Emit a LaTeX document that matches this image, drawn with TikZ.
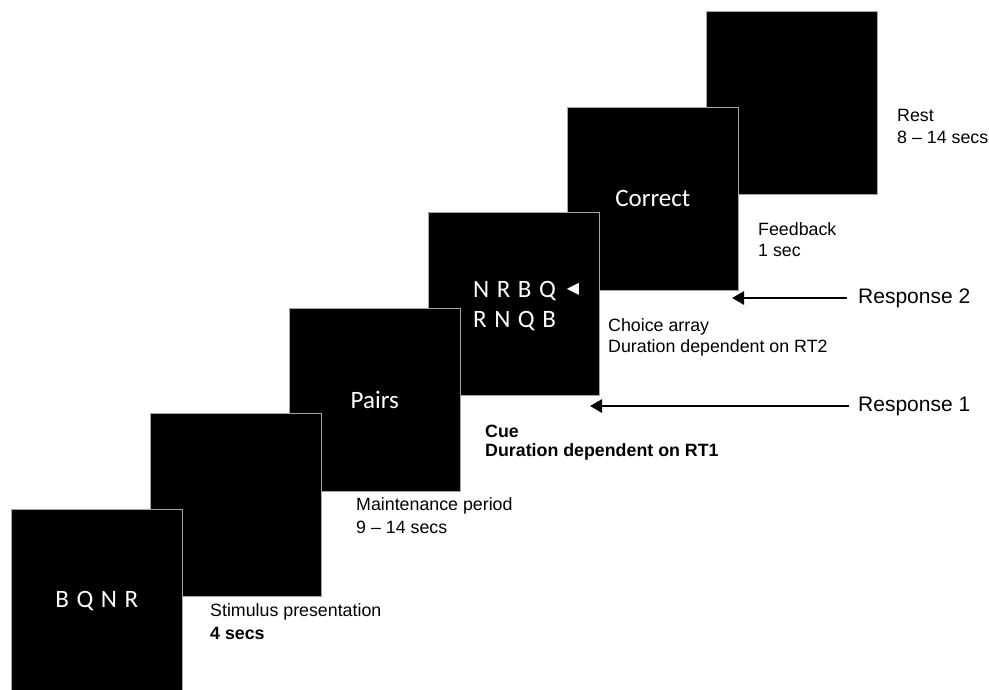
\documentclass[tikz,border=0pt]{standalone}
\usepackage{fontspec}
\setmainfont{Liberation Sans}
\newfontfamily\scrfont{Carlito}
\newfontfamily\symfont{DejaVu Sans}
\usetikzlibrary{arrows.meta}
\newcommand{\lsp}{\hspace{0.3em}}
\tikzset{
  scr/.style={fill=black, draw=black!35, line width=0.6pt, minimum width=171pt, minimum height=183pt, anchor=north west, inner sep=0pt},
  scrtext/.style={text=white, font=\scrfont\fontsize{25}{28}\selectfont, inner sep=0pt},
  lbl/.style={anchor=west, font=\fontsize{17.8}{21}\selectfont, inner sep=0pt},
  blbl/.style={lbl, font=\bfseries\fontsize{17.8}{21}\selectfont},
  resp/.style={anchor=west, font=\fontsize{21}{24}\selectfont, inner sep=0pt},
  rarrow/.style={line width=2.8pt, -{Triangle[length=12pt,width=13pt]}}
}
\begin{document}
\begin{tikzpicture}[x=1pt,y=-1pt]
\useasboundingbox (0,0) rectangle (989,689);
\fill[white] (0,0) rectangle (989,689);
% screens, back to front
\node[scr] (s6) at (706,11) {};
\node[scr] (s5) at (567,107) {};
\node[scr] (s4) at (428,212) {};
\node[scr] (s3) at (289,308) {};
\node[scr] (s2) at (150,413) {};
\node[scr] (s1) at (11,509) {};
% screen texts
\node[scrtext] (t1) at (s1.center) {B\lsp Q\lsp N\lsp R};
\node[scrtext] (t3) at (s3.center) {Pairs};
\node[scrtext, anchor=west] (t4a) at (473,291) {N\lsp R\lsp B\lsp Q};
\node[scrtext, anchor=west] (t4b) at (473,321) {R\lsp N\lsp Q\lsp B};
\node[text=white, font=\symfont\fontsize{16}{16}\selectfont, inner sep=0pt] (tri) at (573,289) {◀};
\node[scrtext] (t5) at (s5.center) {Correct};
% labels
\node[lbl] (l1a) at (210,612) {Stimulus presentation};
\node[blbl] (l1b) at (210,633) {4 secs};
\node[lbl] (l2a) at (356,506) {Maintenance period};
\node[lbl] (l2b) at (356,527) {9 – 14 secs};
\node[blbl] (l3a) at (485,431) {Cue};
\node[blbl] (l3b) at (485,452) {Duration dependent on RT1};
\node[lbl] (l4a) at (608,327) {Choice array};
\node[lbl] (l4b) at (608,348) {Duration dependent on RT2};
\node[lbl] (l5a) at (758,229) {Feedback};
\node[lbl] (l5b) at (758,250) {1 sec};
\node[lbl] (l6a) at (897,115) {Rest};
\node[lbl] (l6b) at (897,137) {8 – 14 secs};
% responses
\node[resp] (r2) at (858,298) {Response 2};
\node[resp] (r1) at (858,406) {Response 1};
\coordinate (r2tip) at (732,298);
\coordinate (r1tip) at (590,406);
\draw[rarrow] ([xshift=-11pt]r2.west) -- (r2tip);
\draw[rarrow] ([xshift=-9pt]r1.west) -- (r1tip);
\end{tikzpicture}
\end{document}
